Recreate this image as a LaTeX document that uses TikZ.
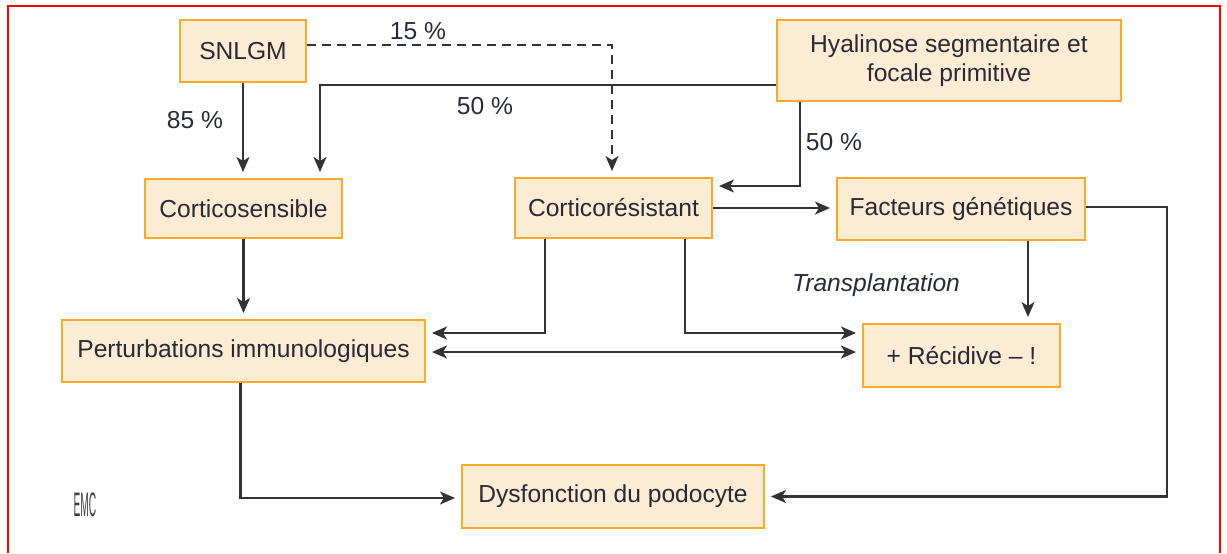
\documentclass[tikz,border=0pt]{standalone}
\usepackage{fontspec}
\setmainfont{Liberation Sans}
\usepackage{xcolor}
\usepackage{tikz}
\usetikzlibrary{arrows.meta,positioning,calc}
\definecolor{boxfill}{RGB}{252,236,212}
\definecolor{boxline}{RGB}{248,170,40}
\definecolor{wire}{RGB}{50,50,55}
\definecolor{ink}{RGB}{40,42,55}
\definecolor{frame}{RGB}{255,0,0}

\begin{document}
\begin{tikzpicture}[x=0.5pt,y=-0.5pt,>={Stealth[length=7.5pt,width=6.5pt,inset=2pt]},
    font=\fontsize{12.3}{14.5}\selectfont,
    stage/.style={draw=boxline,fill=boxfill,line width=1pt,text=ink,align=center,inner sep=2pt},
    link/.style={wire,line width=1.1pt,->,shorten >=3pt},
    pct/.style={text=ink}]

    % Page and frame
    \useasboundingbox (0,0) rectangle (1227,553);
    \draw[frame,line width=1pt] (8,553) -- (8,6) -- (1220,6) -- (1220,553);

    % Boxes
    \node[stage,minimum width=63pt,minimum height=31pt] (snlgm) at (243,51) {SNLGM};
    \node[stage,minimum width=172pt,minimum height=40.5pt] (hyal) at (949,60.5) {Hyalinose segmentaire et\\focale primitive};
    \node[stage,minimum width=98.5pt,minimum height=29.5pt] (csens) at (243.5,208.5) {Corticosensible};
    \node[stage,minimum width=98.5pt,minimum height=30pt] (cres) at (613.5,208) {Corticorésistant};
    \node[stage,minimum width=124pt,minimum height=31pt] (fact) at (961,209) {Facteurs génétiques};
    \node[stage,minimum width=181.5pt,minimum height=31pt] (pert) at (243.5,351) {Perturbations immunologiques};
    \node[stage,minimum width=98.5pt,minimum height=31.5pt] (recid) at (961.5,355.5) {+ Récidive -- !};
    \node[stage,minimum width=151pt,minimum height=31.5pt] (dysf) at (613,496.5) {Dysfonction du podocyte};

    % Links from the top row
    \draw[link] (snlgm.south) -- (snlgm.south |- csens.north);
    \draw[link,dash pattern=on 4.5pt off 3pt] ($(snlgm.east)+(0,-6)$) -| ($(cres.north)+(-1.5,0)$);
    \draw[link] ($(hyal.west)+(0,24.5)$) -| ($(csens.north)+(76.5,0)$);
    \draw[link] ($(hyal.south)+(-149,0)$) |- ($(cres.east)+(0,-22)$);

    % Percentages
    \node[pct] (p85) at (195,120) {85 \%};
    \node[pct] (p15) at (418,31) {15 \%};
    \node[pct] (p50a) at (485,106) {50 \%};
    \node[pct] (p50b) at (834,142) {50 \%};

    % Middle links
    \draw[link] (cres.east) -- (cres.east -| fact.west);
    \draw[link] ($(cres.south)+(-68.5,0)$) |- ($(pert.east)+(0,-18)$);
    \draw[link] ($(cres.south)+(71.5,0)$) |- ($(recid.west)+(0,-22.5)$);
    \coordinate (pr) at ($(pert.east)+(0,1)$);
    \draw[link,<->,shorten <=3pt] (pr) -- (pr -| recid.west);
    \draw[link] ($(fact.south)+(67,0)$) coordinate (fg) -- (fg |- recid.north);
    \draw[link] (csens.south) -- (csens.south |- pert.north);
    \node[text=ink,font=\fontsize{12.3}{14.5}\selectfont\itshape] (transp) at (876,285) {Transplantation};

    % Links to the podocyte
    \draw[link] ($(pert.south)+(-3,0)$) |- ($(dysf.west)+(0,1.5)$);
    \draw[link] ($(fact.east)+(0,-2)$) -- ++(81,0) |- (dysf.east);

    % Logo
    \node[text=black!75,font=\fontsize{17}{17}\selectfont,xscale=0.3] (emc) at (85,505) {EMC};

\end{tikzpicture}
\end{document}
